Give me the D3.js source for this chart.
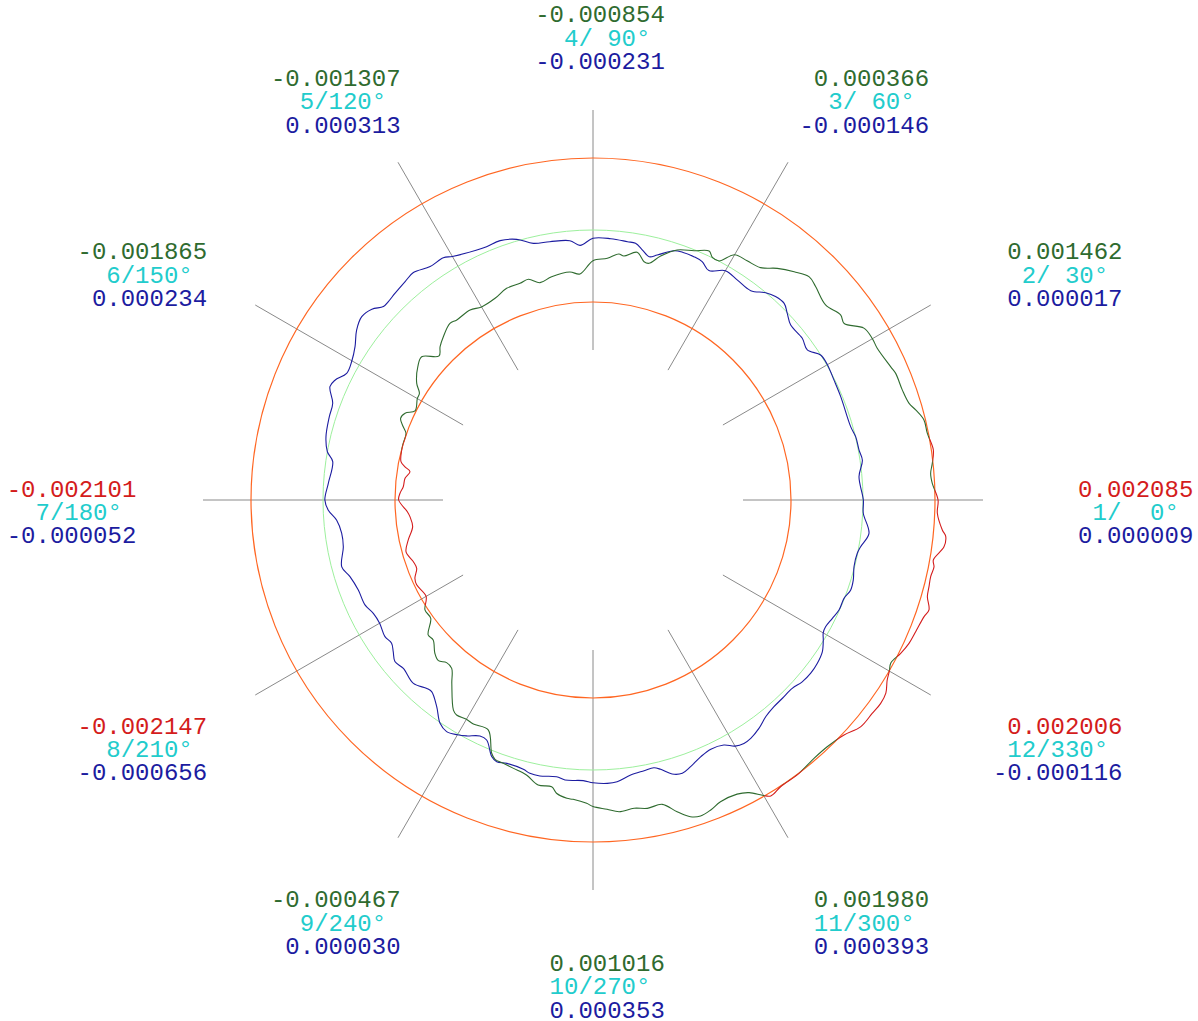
<!DOCTYPE html>
<html>
<head>
<meta charset="utf-8">
<script src="https://cdn.jsdelivr.net/npm/d3@7"></script>
<style>
html, body { margin: 0; padding: 0; background: #ffffff; }
svg { display: block; }
</style>
</head>
<body>
<svg id="chart" width="1198" height="1021"></svg>
<script>
// ---------------- data ----------------
const spokeAngles = [0, 30, 60, 90, 120, 150, 180, 210, 240, 270, 300, 330];
const spokeIndex  = [1, 2, 3, 4, 5, 6, 7, 8, 9, 10, 11, 12];
const topLabelValues = [0.002085, 0.001462, 0.000366, -0.000854, -0.001307, -0.001865,
                        -0.002101, -0.002147, -0.000467, 0.001016, 0.001980, 0.002006];
const bottomLabelValues = [0.000009, 0.000017, -0.000146, -0.000231, 0.000313, 0.000234,
                           -0.000052, -0.000656, 0.000030, 0.000353, 0.000393, -0.000116];
const tolerance = 0.002;

const greenAngles = [0, 2.8, 4.5, 6.2, 8.4, 11.3, 13.6, 15.6, 17.0, 19.6, 22.7, 24.1, 28.1, 30,
  32.4, 35.1, 36.8, 40.0, 43.8, 45.9, 48.6, 51.5, 54.2, 57.2, 60, 62.2, 63.8, 65.0, 67.9,
  71.4, 74.5, 76.7, 77.9, 79.9, 82.8, 84.0, 86.6, 90, 93.3, 95.8, 100.5, 103.7, 106.3, 108.6,
  112.2, 115.9, 120, 122.9, 127.1, 129.0, 132.5, 134.9, 136.9, 140.1, 142.7, 146.5, 148.4, 150,
  153.4, 155.2, 157.0, 158.9, 160.4, 163.4, 165.4, 168.7, 170.0, 171.2, 173.4, 176.0, 178.0,
  180, 183.6, 185.2, 188.4, 192.2, 195.5, 198.9, 201.2, 203.7, 205.7, 210, 213.2, 216.1,
  219.3, 221.2, 224.1, 226.1, 228.0, 230.0, 232.4, 236.4, 237.6, 240, 241.9, 245.5, 248.2,
  249.3, 251.2, 253.5, 256.4, 259.1, 261.8, 262.9, 265.0, 266.2, 268.8, 270, 272.6, 274.8,
  277.6, 280.0, 282.8, 285.1, 287.1, 288.8, 290.8, 292.9, 296.1, 298.1, 300, 301.0, 303.2,
  307.0, 310.6, 313.5, 316.9, 319.7, 322.6, 324.7, 326.6, 328.5, 330, 331.3, 333.5, 335.6,
  337.8, 340.6, 341.9, 343.9, 345.5, 347.2, 348.9, 350.0, 352.4, 354.1, 355.1, 357.8];
const greenValues = [0.002085, 0.001936, 0.001908, 0.001981, 0.002056, 0.001969, 0.001958,
  0.001806, 0.001681, 0.001619, 0.001614, 0.001561, 0.001450, 0.001462,
  0.001411, 0.001028, 0.001089, 0.000933, 0.001067, 0.001131, 0.000950, 0.000722, 0.000458,
  0.000403, 0.000366, 0.000006, 0.000011, 0.000131, -0.000028,
  -0.000172, -0.000467, -0.000744, -0.000731, -0.000511, -0.000667, -0.000628, -0.000775,
  -0.000854, -0.001211, -0.001133, -0.001192, -0.001286, -0.001111, -0.001147,
  -0.001150, -0.001272, -0.001307, -0.001214, -0.001228, -0.001186, -0.001347, -0.001483,
  -0.001644, -0.001297, -0.001383, -0.001628, -0.001839, -0.001865,
  -0.001972, -0.001750, -0.001694, -0.001850, -0.001986, -0.002000, -0.002008, -0.002061,
  -0.002197, -0.002356, -0.002244, -0.002217, -0.002136,
  -0.002101, -0.002333, -0.002394, -0.002436, -0.002250, -0.002111, -0.002222, -0.002247,
  -0.002097, -0.002064, -0.002147, -0.001922, -0.001922,
  -0.001583, -0.001600, -0.001383, -0.001306, -0.001422, -0.001394, -0.001072, -0.000494,
  -0.000428, -0.000467, -0.000444, -0.000481, 0.000078,
  0.000200, 0.000228, 0.000275, 0.000358, 0.000561, 0.000547, 0.000708, 0.000819, 0.000833,
  0.000928, 0.001016, 0.001100, 0.001189,
  0.001139, 0.001197, 0.001169, 0.001469, 0.001706, 0.001772, 0.001711, 0.001600, 0.001597,
  0.001714, 0.001980, 0.002089, 0.002019,
  0.002008, 0.001944, 0.001950, 0.002050, 0.002244, 0.002261, 0.002286, 0.002244, 0.002083,
  0.002006, 0.001931, 0.002050, 0.002139,
  0.002181, 0.002250, 0.002319, 0.002167, 0.002139, 0.002119, 0.002153, 0.002100, 0.002336,
  0.002350, 0.002239, 0.002072];

const blueAngles = [0, 5.0, 8.4, 10.6, 13.5, 15.9, 22.6, 26.5, 30, 32.5, 35.0, 37.7, 41.5,
  43.9, 45.8, 48.1, 50.2, 53.0, 56.7, 60, 63.2, 65.4, 67.5, 70.0, 72.0, 75.3, 77.0, 78.8,
  80.6, 82.4, 86.1, 90, 92.9, 95.1, 99.5, 103.1, 106.3, 109.7, 112.8, 115.1, 120, 121.7,
  124.9, 128.3, 130.7, 133.8, 135.9, 137.3, 139.2, 141.6, 144.3, 147.2, 150, 152.8, 155.1,
  156.7, 159.6, 162.5, 166.7, 169.7, 171.6, 176.4, 180, 182.2, 184.5, 187.5, 190.6, 194.9,
  197.5, 201.0, 204.7, 207.3, 210, 213.3, 215.4, 217.2, 219.2, 221.6, 225.6, 228.6, 229.9,
  232.9, 235.6, 237.7, 240, 241.8, 244.4, 246.1, 248.5, 249.8, 251.9, 255.5, 257.0, 259.1,
  262.5, 264.3, 268.0, 270, 272.9, 274.9, 277.8, 280.7, 282.8, 284.1, 286.1, 288.1, 290.1,
  292.8, 295.3, 298.1, 300, 301.8, 303.5, 306.0, 308.6, 311.2, 313.7, 316.6, 319.0, 321.5,
  323.9, 326.5, 328.7, 330, 331.4, 333.7, 335.9, 338.6, 340.7, 342.9, 345.7, 348.6, 350.1,
  353.1, 357.2];
const blueValues = [0.000009, -0.000083, 0.000064, 0.000019, 0.000006, -0.000058, -0.000044,
  -0.000022, 0.000017, -0.000003, -0.000233, -0.000153, -0.000167,
  -0.000014, 0.000117, 0.000092, -0.000006, -0.000219, -0.000192, -0.000146, -0.000361,
  -0.000217, -0.000183, -0.000181, -0.000219, -0.000464, -0.000564, -0.000422,
  -0.000272, -0.000261, -0.000225, -0.000231, -0.000417, -0.000269, -0.000225, -0.000181,
  0.000044, 0.000153, 0.000131, 0.000158, 0.000313, 0.000411,
  0.000406, 0.000550, 0.000503, 0.000450, 0.000417, 0.000422, 0.000614, 0.000697, 0.000586,
  0.000364, 0.000234, 0.000194, 0.000403,
  0.000456, 0.000214, 0.000181, 0.000122, 0.000000, -0.000192, -0.000133, -0.000052,
  -0.000142, -0.000358, -0.000458, -0.000444, -0.000278,
  -0.000422, -0.000517, -0.000528, -0.000633, -0.000656, -0.000586, -0.000636, -0.000533,
  -0.000400, -0.000456, -0.000369, -0.000522, -0.000542,
  -0.000303, 0.000019, 0.000111, 0.000030, -0.000064, -0.000231, -0.000208, 0.000167,
  0.000247, 0.000197, 0.000228, 0.000292, 0.000306,
  0.000253, 0.000317, 0.000300, 0.000353, 0.000381, 0.000353, 0.000211, 0.000153, 0.000128,
  0.000214, 0.000422, 0.000486, 0.000389,
  0.000233, 0.000158, 0.000217, 0.000393, 0.000456, 0.000439, 0.000342, 0.000197, 0.000131,
  0.000117, 0.000117, 0.000200, 0.000228,
  0.000208, 0.000139, -0.000014, -0.000116, -0.000142, -0.000083, -0.000014, -0.000011,
  0.000081, 0.000064, -0.000017, -0.000011, 0.000047,
  0.000222, 0.000017];

// ---------------- layout ----------------
const W = 1198, H = 1021;
const cx = 593, cy = 500;
const innerSpoke = 150, outerSpoke = 390;
const labelCx = 600, labelCy = 512.4, labelRx = 528.5, labelRy = 474.3;
const lineGap = 23.4;

const colGreen = "#2f6b2f", colBlue = "#1c1ca0", colRed = "#d41c1c",
      colCyan = "#22cccc", colOrange = "#ff6622", colLight = "#9df09d", colSpoke = "#8a8a8a";

const svg = d3.select("#chart");
svg.append("rect").attr("width", W).attr("height", H).attr("fill", "#fff");

const r = d3.scaleLinear().domain([-tolerance, 0, tolerance]).range([198, 270, 342]);
const rad = a => a * Math.PI / 180;

function circlePath(radius) {
  const p = d3.path();
  p.moveTo(radius, 0);
  p.arc(0, 0, radius, 0, 2 * Math.PI);
  p.closePath();
  return p.toString();
}

const defs = svg.append("defs");
defs.append("clipPath").attr("id", "inTol").attr("clipPathUnits", "userSpaceOnUse")
  .append("path").attr("clip-rule", "evenodd")
  .attr("d", circlePath(r(tolerance)) + circlePath(r(-tolerance)));
defs.append("clipPath").attr("id", "outTol").attr("clipPathUnits", "userSpaceOnUse")
  .append("path").attr("clip-rule", "evenodd")
  .attr("d", `M${-W},${-H}H${W}V${H}H${-W}Z` + circlePath(r(tolerance)) + circlePath(r(-tolerance)));

const g = svg.append("g").attr("transform", `translate(${cx},${cy})`);

// spokes
g.append("g").selectAll("line").data(spokeAngles).join("line")
  .attr("x1", a => innerSpoke * Math.cos(rad(a)))
  .attr("y1", a => -innerSpoke * Math.sin(rad(a)))
  .attr("x2", a => outerSpoke * Math.cos(rad(a)))
  .attr("y2", a => -outerSpoke * Math.sin(rad(a)))
  .attr("stroke", colSpoke).attr("stroke-width", 1);

// reference circles
g.append("circle").attr("r", r(tolerance)).attr("fill", "none").attr("stroke", colOrange).attr("stroke-width", 1.2);
g.append("circle").attr("r", r(-tolerance)).attr("fill", "none").attr("stroke", colOrange).attr("stroke-width", 1.2);
g.append("circle").attr("r", r(0)).attr("fill", "none").attr("stroke", colLight).attr("stroke-width", 1);

// curves
const line = d3.lineRadial()
  .angle(d => rad(90 - d.a))
  .radius(d => r(d.v))
  .curve(d3.curveCatmullRomClosed.alpha(0.5));

const blueData = blueAngles.map((a, i) => ({a, v: blueValues[i]}));
const greenData = greenAngles.map((a, i) => ({a, v: greenValues[i]}));

g.append("path").attr("d", line(blueData)).attr("fill", "none")
  .attr("stroke", colBlue).attr("stroke-width", 1.1);
g.append("path").attr("d", line(greenData)).attr("fill", "none")
  .attr("stroke", colGreen).attr("stroke-width", 1.1).attr("clip-path", "url(#inTol)");
g.append("path").attr("d", line(greenData)).attr("fill", "none")
  .attr("stroke", colRed).attr("stroke-width", 1.1).attr("clip-path", "url(#outTol)");

// labels
const nb = "\u00A0";
const fmtNum = v => { const s = v.toFixed(6); return (v >= 0 ? nb : "") + s; };
const pad3 = n => String(n).padStart(3, nb);
const labels = svg.append("g")
  .attr("font-family", "'Liberation Mono', 'Courier New', monospace")
  .attr("font-size", 24)
  .attr("text-anchor", "middle");

spokeAngles.forEach((a, i) => {
  const x = labelCx + labelRx * Math.cos(rad(a));
  const y = labelCy - labelRy * Math.sin(rad(a));
  const tv = topLabelValues[i];
  const lines = [
    {t: fmtNum(tv), c: Math.abs(tv) > tolerance ? colRed : colGreen, dy: -lineGap},
    {t: pad3(spokeIndex[i]) + "/" + pad3(a) + "\u00B0" + nb, c: colCyan, dy: 0},
    {t: fmtNum(bottomLabelValues[i]), c: colBlue, dy: lineGap}
  ];
  lines.forEach(l => {
    labels.append("text")
      .attr("x", x).attr("y", y + l.dy + 7.5)
      .attr("fill", l.c)
      .text(l.t);
  });
});
</script>
</body>
</html>
